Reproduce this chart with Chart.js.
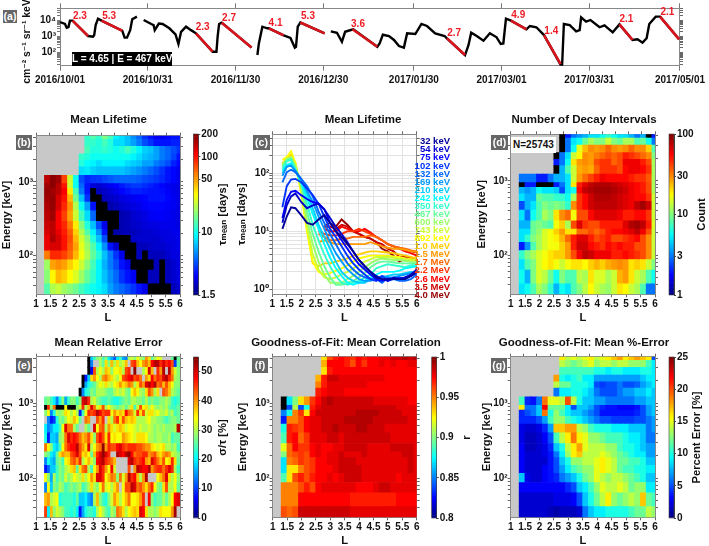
<!DOCTYPE html>
<html>
<head>
<meta charset="utf-8">
<title>Mean Lifetime</title>
<script src="https://cdn.jsdelivr.net/npm/chart.js@4"></script>
<style>
    html, body { margin: 0; background: #fff; overflow: hidden; }
    #page { position: relative; width: 709px; height: 546px; overflow: hidden; }
    canvas { position: absolute; }
    .badge { position: absolute; background: #666; color: #fff; font: bold 10.5px "Liberation Sans"; text-align: center; z-index: 5; }
    .note { position: absolute; font: bold 10px "Liberation Sans"; white-space: nowrap; z-index: 5; }
</style>
</head>
<body>
<div id="page"></div>
<script>
// ---- panel (a) time series ----
const dateDays = [0, 30, 60, 90, 121, 151, 181, 212];
const dateLabels = ["2016/10/01", "2016/10/31", "2016/11/30", "2016/12/30", "2017/01/30", "2017/03/01", "2017/03/31", "2017/05/01"];
const fluxDays = [0,1.7,2.3,2.9,3.4,4.3,9.6,11.3,11.7,12.2,13,14.2,21.3,22.1,22.9,24,24.7,26.3,null,
    28.6,31.2,32,32.4,33.8,35.1,37.4,39.5,40.5,41.4,43.1,44.8,46.5,52.2,53.5,53.9,54.4,55.3,65.5,null,
    67.5,68,69.2,70.9,71.4,76.5,78.8,80.3,80.7,81.3,82.2,90.5,null,
    92.6,94.7,96.4,97.5,98.6,100.3,108.5,109.3,110.4,112.5,114.2,115.9,117.6,118.7,121.5,123.6,125.5,128.3,131.5,132.3,138.5,139.7,140.6,142.5,144.8,147,149.3,150.7,151.6,152.5,154.2,159.5,160.7,162.9,165.5,171.2,171.7,172.3,174.3,176.5,177.7,178.2,179.9,181.4,184.5,186.2,189,191.3,195.8,197.5,199.2,200.6,201.5,203.7,205.2,211.7];
const fluxValues = [7500,5700,3400,3700,9100,9100,1050,950,1200,4900,12000,9100,2200,830,830,2400,11000,16000,null,
    10000,5700,4900,2400,6000,5700,3100,1320,340,1900,3900,2400,1530,115,115,950,5700,6900,205,null,
    72,370,3900,3100,3100,1150,800,205,230,3900,7000,1530,null,
    2000,1670,470,1900,2200,2700,230,370,1260,1050,600,255,205,1530,1390,5700,4300,1530,1050,760,72,295,1670,1050,540,1530,870,340,370,12000,9100,2700,4300,3600,1200,18,18,5700,4900,2000,2400,14600,7900,10000,3600,4700,1760,5400,600,660,410,760,5700,16000,16000,660];
const decayDays = [4.3,9.6,null,14.2,21.3,null,46.5,52.2,null,55.3,65.5,null,71.4,76.5,null,82.2,90.5,null,100,108.5,null,132.3,138.5,null,154.2,159.5,null,165.5,171.2,null,191.3,195.8,null,205.2,211.7];
const decayFlux = [9100,1050,null,9100,2200,null,1530,115,null,6900,205,null,3100,1150,null,7000,1530,null,2700,230,null,760,72,null,9100,2700,null,1200,20,null,5400,600,null,16000,660];
const decayLabelDays = [6.8,16.8,48.8,57.8,73.7,84.8,101.9,134.8,156.7,168,193.7,207.7];
const decayLabelFlux = [17600,17600,3400,13700,6200,16000,5400,1530,18500,2200,11500,28000];
const decayLabels = ["2.3","5.3","2.3","2.7","4.1","5.3","3.6","2.7","4.9","1.4","2.1","2.1"];

// ---- shared heatmap axes ----
const energyEdges = [30,41.6,63.6,87.5,116,149,188,225,291,404,529,668,814,944,1225,1597,1934,2392,3017,3742,4200];
const wideBins = [1.4,1.6,1.8,2,2.2,2.4,2.6,2.8,3,3.2,3.4,3.6,3.8,4,4.2,4.4,4.6,4.8,5,5.2,5.4,5.6,5.8,6];
const fineBins = [1.35,1.45,1.55,1.65,1.75,1.85,1.95,2.05,2.15,2.25,2.35,2.45,2.55,2.65,2.75,2.85,2.95,3.05,3.15,3.25,3.35,3.45,3.55,3.65,3.75,3.85,3.95,4.05,4.15,4.25,4.35,4.45,4.55,4.65,4.75,4.85,4.95,5.05,5.15,5.25,5.35,5.45,5.55,5.65,5.75,5.85,5.95];
const energyTicks = [40,50,60,70,80,90,100,200,300,400,500,600,700,800,900,1000,2000,3000,4000];

// rows run from 32 keV up to 4 MeV; short rows start further right in L
const lifetimeRows = [
    [14,22,24,20,18,16,13,11,10,9,8,6,5,4.5,4,3.5,3,2.5,1,1,1,1,2,2.2],
    [18,33,45,40,32,27,20,15,12,9,7,5.5,4.5,3.5,3,2.6,1,1,2,2,1,2,2.2,2.4],
    [20,50,55,50,40,33,25,18,13,9,6.5,5,4,3,2.5,1,1,1,1,2,1,2,2.2,2.4],
    [60,90,90,80,65,45,30,22,15,11,7,5,3.5,2.5,1,1,2,1,2,2,2,2.2,2.4,2.4],
    [120,130,130,100,70,50,28,20,14,9,5.5,3,2.2,1,1,1,2,2,2.1,2.2,2.2,2.3,2.4,2.5],
    [120,160,130,100,75,45,26,18,11,7,4,1,1,1,1,2.1,2.2,2.2,2.2,2.2,2.3,2.4,2.4,2.5],
    [130,150,120,95,70,40,22,14,9,5.5,3,1,1.8,1.9,2,2,2.1,2.2,2.2,2.3,2.4,2.4,2.5,2.5],
    [140,150,110,90,60,35,18,11,7,4,2.5,1,1,1.9,2,2.1,2.2,2.3,2.4,2.4,2.5,2.5,2.5,2.4],
    [150,170,110,80,50,25,13,8,4.5,1,1,1,1,1.9,2,2.2,2.3,2.4,2.6,2.7,2.7,2.6,2.5,2.4],
    [160,180,130,90,55,22,10,6,3,1,1,1.9,2,2.2,2.3,2.4,2.5,2.7,2.8,2.8,2.8,2.7,2.6,2.4],
    [170,180,130,100,45,16,7,3.5,1,1,2,2.1,2.2,2.4,2.5,2.6,2.7,2.8,3,3,3,2.8,2.6,2.4],
    [180,170,150,110,35,13,5,3,1,2,2.1,2.3,2.5,2.8,3,3.2,3.2,3.1,3,3,2.9,2.7,2.5,2.4],
    [170,190,150,100,25,10,4.5,3,2.3,2.2,2.4,2.6,2.8,3.1,3.4,3.6,3.6,3.4,3.2,3,2.8,2.6,2.5,2.4],
    [150,190,170,80,25,10,4,3.3,3.5,3.6,3.9,4.2,4.5,4.5,4.5,4.5,4.3,4,3.8,3.6,3.3,3,2.8,2.5],
    [8,8.5,7.5,7,7,7,7,7,6.5,6,5.5,5,4.5,4,3.5,3,2.8,2.5],
    [11,9.5,9,8,9,9,9,9,8,7.5,7,6,6,5,4.5,4,3.2,2.8],
    [12,11,10,10,10,10,10,10,10,9,8,7,6.5,6,5,4.5,3.8,3],
    [13,11,11,12,11,10,11,13,11,9,7.5,7,6,5,4.5,4,3.5],
    [12,12,11,13,11,8,8,7,6,5,4,3.5,3,3,3,3.2,3.2],
    [12,14,12,17,13,9,8,7,5.5,4.5,3.5,3,2.6,2.6,2.8,3,3]
];
const countRows = [
    [5,6,8,12,10,7,4,6,5,8,10,13,18,14,12,11,14,20,18,14,12,8,3,3],
    [6,4,10,15,13,9,6,10,8,8,13,12,20,15,15,12,14,25,28,20,14,12,8,6],
    [5,8,10,15,18,20,17,14,17,20,20,18,22,25,22,26,28,30,28,20,22,20,14,10],
    [7,10,12,15,17,20,22,22,28,40,60,75,70,60,60,60,50,50,55,50,45,40,30,14],
    [2,3.5,8,12,15,17,17,22,28,50,70,70,55,50,45,55,50,55,50,50,40,40,30,14],
    [5,7,10,12,15,17,19,25,35,50,65,65,50,40,45,50,40,40,45,50,55,40,30,14],
    [5,5,9,11,15,17,22,28,20,20,35,35,40,35,40,50,55,55,60,65,75,60,40,14],
    [4,4,9,10,9,8,17,22,12,40,65,45,40,40,50,50,50,50,65,80,85,75,50,15],
    [5,3,6,8,12,10,20,30,35,17,40,40,55,65,65,65,65,60,50,50,55,55,45,14],
    [2.5,4,5,8,10,9,10,9,7,30,45,55,70,75,75,75,75,70,65,60,75,85,70,14],
    [5,4,4,9,8,8,7,7,6,12,45,55,70,80,80,80,75,70,65,60,55,55,45,14],
    [4,3.5,4,6,5,5,4.5,2.5,5,6,55,75,80,85,85,85,80,75,70,60,55,50,40,12],
    [1,2,2,1,1,1,2,3,5,20,50,65,75,80,80,80,75,70,65,60,55,50,40,12],
    [3,3,3,2,2,3,4,4,5,14,28,35,42,50,60,55,55,55,55,50,45,45,38,12],
    [1,4,8,14,26,28,26,36,45,45,45,40,55,60,60,55,45,12],
    [2,3,6,20,28,30,28,40,45,45,36,40,60,60,60,50,40,12],
    [1,3,5,14,18,30,28,32,36,40,36,40,50,45,40,35,30,10],
    [1,3,6,16,24,30,28,30,36,30,28,30,36,30,30,22,8],
    [1,3,5,6,9,12,10,10,14,10,9,12,12,8,9,6,3],
    [1,2,3,3.5,4,5,5,6,7,6,5,5,4,3,4,1,2]
];
const errorRows = [
    [45,20,38,28,32,30,28,24,24,22,24,20,8,16,22,24,24,22,30,34,30,26,24,30,28,42,40,36,30,34,36,38,36,50,48,36,30,30,28,30,36,34,34,34,40,53,null],
    [38,40,30,32,34,22,24,24,24,24,22,26,18,18,20,16,14,30,38,28,24,22,28,32,40,36,30,34,38,42,34,34,36,40,46,null,48,28,24,26,26,30,26,30,34,48,50],
    [14,34,18,28,26,30,28,24,26,28,26,28,30,24,26,30,36,30,28,34,42,32,34,30,36,40,null,34,44,44,52,50,42,44,40,36,42,46,34,28,26,36,44,30,30,34,26],
    [34,28,16,30,24,28,26,32,28,30,34,32,30,36,30,34,40,36,50,50,46,34,38,42,40,28,42,32,40,52,46,48,38,30,40,52,null,null,null,34,38,42,50,36,30,34,28],
    [8,12,18,18,24,28,26,30,32,36,38,26,36,42,44,30,24,34,40,50,46,40,34,48,32,null,null,null,null,44,null,40,52,50,48,48,52,40,44,46,46,42,46,50,46,30,24],
    [14,22,18,16,26,28,24,34,36,42,44,40,46,30,34,38,32,28,48,50,52,46,44,42,38,null,null,null,null,50,52,46,44,46,48,40,38,50,46,42,38,44,34,36,46,36,26],
    [28,26,20,18,26,36,40,38,38,44,46,50,44,36,38,34,26,38,46,50,54,50,46,null,null,52,50,48,52,54,48,42,44,44,46,46,40,42,44,38,36,40,42,40,32,30,28],
    [42,34,28,20,18,24,34,42,46,48,48,52,44,40,36,50,30,34,40,42,54,40,46,44,44,48,50,46,44,46,46,46,44,44,42,40,40,36,34,32,34,36,30,30,28,30,24],
    [22,8,18,18,16,28,30,42,50,46,48,46,42,38,40,44,36,28,44,48,44,36,46,34,36,34,34,40,38,36,34,32,36,36,36,34,30,30,28,30,30,28,28,30,24,26,26],
    [20,14,16,20,20,24,34,50,42,42,30,26,null,null,30,26,null,50,34,42,44,30,40,36,32,36,38,36,32,34,34,32,30,32,30,30,32,30,28,30,28,30,28,28,28,30,52],
    [null,14,8,10,22,28,26,30,34,32,38,34,26,null,42,40,null,null,44,40,46,null,36,30,42,46,36,44,38,36,38,36,30,30,30,32,34,30,30,28,28,26,24,26,28,28,26],
    [28,34,14,22,30,28,30,36,34,30,34,30,8,24,34,46,44,46,52,48,44,46,46,34,40,36,38,36,48,42,40,32,46,36,44,32,36,36,32,34,30,30,32,28,30,24,26],
    [-1,46,28,42,-1,-1,-1,34,-1,-1,-1,28,32,46,30,38,50,42,32,36,44,30,34,30,28,26,28,30,26,30,36,24,32,44,34,36,30,34,30,28,30,28,30,26,24,24,26],
    [26,28,24,20,14,22,28,16,24,28,28,24,28,50,52,46,30,32,28,26,24,24,26,24,22,22,24,26,28,26,30,30,28,28,26,30,26,28,26,26,28,28,30,28,24,22,24],
    [-1,14,22,24,28,26,30,30,30,28,26,26,30,32,30,32,28,26,34,38,34,30,28,36,44,40,30,36,null,44,42,38,30,28,26],
    [-1,16,22,24,26,30,34,32,36,32,30,34,36,40,36,38,42,40,30,36,44,40,50,52,48,52,42,44,38,44,38,34,28,28],
    [-1,8,18,36,40,34,30,40,42,38,36,32,30,34,44,46,48,50,44,46,42,null,40,36,48,42,46,44,50,52,46,42,30,28],
    [-1,6,44,30,34,30,38,36,28,34,34,36,30,44,46,null,54,null,null,30,34,50,38,null,46,40,52,null,52,40,32,28],
    [-1,14,null,null,30,26,36,28,38,30,36,30,32,38,null,44,46,38,34,40,42,38,48,52,52,46,50,46,48,44,10,26],
    [-1,18,24,28,30,24,28,20,16,12,20,24,16,14,30,32,28,34,30,28,40,36,26,30,34,32,null,null,null,26,-1,26]
];
const correlationRows = [
    [.96,.955,.96,.985,.985,.985,.985,.985,.985,.985,.985,.985,.98,.98,.98,.98,.98,.98,.98,.98,.98,.98,.98,.98],
    [.95,.95,.95,.975,.975,.975,.975,.975,.975,.975,.975,.975,.97,.97,.97,.97,.97,.97,.97,.97,.975,.975,.975,.975],
    [.95,.95,.95,.96,.97,.96,.975,.98,.98,.98,.98,.98,.98,.975,.975,.975,.98,.985,.985,.98,.98,.98,.98,.98],
    [.89,.93,.96,.97,.96,.97,.975,.975,.98,.975,.98,.985,.985,.985,.98,.98,.98,.98,.98,.98,.975,.98,.98,.98],
    [.87,.93,.93,.95,.96,.965,.975,.975,.975,.98,.985,.985,.985,.985,.98,.98,.98,.98,.98,.98,.98,.98,.985,.98],
    [.87,.95,.955,.965,.96,.965,.975,.975,.98,.98,.985,.985,.985,.98,.98,.98,.98,.98,.98,.98,.98,.98,.985,.98],
    [.9,.955,.96,.965,.96,.975,.98,.975,.98,.98,.985,.98,.98,.98,.985,.98,.98,.98,.98,.98,.98,.985,.985,.98],
    [.92,.955,.975,.965,.965,.975,.98,.975,.975,.98,.98,.985,.985,.985,.985,.98,.98,.98,.98,.985,.985,.985,.985,.98],
    [.89,.97,.975,.955,.965,.98,.98,.98,.985,.985,.98,.985,.985,.985,.985,.985,.985,.985,.985,.98,.98,.98,.98,.98],
    [.88,.97,.965,.96,.975,.98,.98,.985,.985,.99,.985,.985,.985,.99,.99,.985,.985,.985,.98,.98,.98,.98,.98,.98],
    [.83,.95,.95,.96,.975,.98,.98,.985,.985,.985,.985,.99,.99,.99,.99,.99,.985,.985,.985,.985,.985,.985,.98,.98],
    [.85,.88,.95,.965,.93,.975,.985,.985,.985,.985,.985,.985,.985,.99,.99,.99,.99,.985,.985,.985,.985,.98,.98,.98],
    [.79,.84,.91,.84,.88,.97,.98,.985,.985,.985,.985,.985,.985,.985,.985,.985,.985,.985,.985,.985,.98,.98,.98,.98],
    [.79,.87,.9,.93,.945,.965,.975,.985,.99,.985,.985,.985,.985,.985,.985,.985,.98,.98,.98,.98,.98,.98,.975,.975],
    [.97,.975,.98,.98,.98,.975,.975,.975,.975,.975,.975,.975,.975,.975,.975,.975,.975,.975],
    [.95,.97,.98,.98,.98,.98,.98,.98,.98,.975,.975,.975,.975,.975,.975,.975,.975,.975],
    [.94,.97,.985,.985,.98,.98,.98,.98,.98,.98,.98,.98,.975,.975,.975,.975,.975,.975],
    [.93,.97,.975,.975,.975,.975,.975,.975,.975,.975,.975,.975,.975,.975,.975,.975,.975],
    [.94,.975,.975,.975,.97,.96,.975,.965,.975,.975,.98,.975,.98,.975,.975,.98,.98],
    [.93,.96,.97,.975,.97,.965,.975,.97,.975,.975,.98,.98,.985,.985,.99,.985,.99]
];
const percentRows = [
    [2,2,2,2,2,1.5,1,1.5,1.5,1.5,2,6,8,9,9,10,10,10,10,11,12,12,14,13],
    [2,2,2,2,2,2,2.5,2.5,2.5,3,5,8,10,12,14,16,13,12,13,14,13,17,12,11],
    [3,3,3,3,3,3,3,3,4,5,8,9,11,13,15,14,14,15,14,12,13,13,9,9],
    [8,2.5,2,2,3,3.5,4,6,7,8,10,12,13,15,14,13,14,14,13,12,11,10,8,8],
    [3,2,2,2,3,3.5,5,7,9,11,12,13,13,15,16,15,14,12,11,11,10,10,9,9],
    [3,2,2,2,2,3.5,5,8,10,13,13,14,14,15,16,15,14,12,12,11,11,10,8,8],
    [3,2,2,2,2.5,3.5,6,9,13,16,17,14,14,14,15,14,13,12,11,10,9,9,7,7],
    [3,1.5,1.5,2,2.5,4,8,10,14,16,18,15,14,14,14,13,13,11,10,10,9,8,7,7],
    [2.5,1.5,1.5,2,3,5,11,14,16,19,16,15,13,13,12,11,11,11,10,9,9,8,6,6],
    [2.5,2,2,2.5,4,7,17,17,18,18,14,13,11,10,10,10,9,9,9,8,8,8,6,7],
    [4,4,4,5,7,11,13,13,11,10,9,8,7,6,5,5,4.5,4.5,4.5,4.5,5,5,6,7],
    [4,5,6,8,19,10,13,11,9,8,8,7,6,5,3.5,3.5,3.5,3.5,3.5,3.5,4,5,7,8],
    [16,6,6,8,22,12,12,12,9,5,8,8,7,5,4,3.5,3.5,3,3,3,3.5,5,7,8],
    [11,4,3.5,6,19,15,15,14,20,14,10,8,8,7,7,6,6,6,6,6,7,7,8,8],
    [6,9,9,10,10,9,8,6,5,5,5,6,7,7,8,8,9,8],
    [14,12,12,10,10,10,9,5,4.5,5,5,6,5,5,5.5,7,8,9],
    [18,10,9,10,11,9,9,7,7,7,7,7,7,7,7,8,9,9],
    [11,11,11,11,11,11,10,10,9,10,10,9,9,9,10,10,9],
    [14,13,12,13,14,15,13,14,14,13,14,14,13,13,13,11,9],
    [16,14,15,14,15,16,14,15,16,17,18,16,17,18,17,16,5]
];

// ---- panel (c) lifetime per energy channel ----
const lifetimeL = [1.35,1.5,1.65,1.8,2,2.2,2.4,2.6,2.8,3,3.2,3.4,3.6,3.8,4,4.2,4.4,4.6,4.8,5,5.2,5.4,5.6,5.8,6];
const channelNames = ["32 keV","54 keV","75 keV","102 keV","132 keV","169 keV","210 keV","242 keV","350 keV","467 keV","600 keV","743 keV","892 keV","1.0 MeV","1.5 MeV","1.7 MeV","2.2 MeV","2.6 MeV","3.5 MeV","4.0 MeV"];
const channelLifetimes = [
    [11,18,26,25,19,14,13,16,19,14,10,8,6,4.5,3.2,2.5,2,1.6,1.5,1.5,1.5,1.5,1.5,1.7,2],
    [14,28,40,45,32,25,28,30,24,17,12,9,6.5,4.5,3.2,2.5,2,1.7,1.5,1.4,1.6,1.5,1.6,1.8,2.2],
    [17,35,48,50,42,36,32,30,24,14,10,7,5,3.6,2.7,2.2,1.8,1.5,1.4,1.5,1.5,1.5,1.6,1.7,2],
    [26,60,78,80,70,55,42,30,18,11,8,5.5,3.8,2.8,2.2,1.8,1.5,1.4,1.7,1.4,1.5,1.6,1.5,1.7,1.9],
    [70,105,115,105,80,60,40,22,14,9,6,4,2.8,2.2,1.8,1.6,1.5,1.5,1.3,1.6,1.5,1.4,1.4,1.5,1.8],
    [90,130,135,110,80,50,32,18,11,6.5,4.2,3,2.2,1.8,1.5,1.4,1.4,1.5,1.7,1.6,1.6,1.7,1.8,1.9,2],
    [100,130,140,110,75,45,25,13,8,5,3,2,1.6,1.4,1.3,1.3,1.5,1.6,1.6,1.7,1.8,1.8,1.9,2,2],
    [110,140,150,110,70,38,20,11,6,3.5,2.3,1.7,1.3,1.2,1.3,1.4,1.6,1.8,2,2,2,2.1,2.3,2.4,2.5],
    [120,160,170,115,70,30,13,7,4,2.5,1.7,1.3,1.2,1.3,1.4,1.6,1.8,2.3,2.5,2.7,2.6,2.5,2.4,2.6,2.6],
    [130,170,180,120,65,22,9,4.5,2.5,1.6,1.2,1.2,1.3,1.4,1.6,1.9,2.4,2.8,3,3,2.9,2.8,2.8,2.8,2.8],
    [140,170,190,130,60,16,6,3,1.8,1.3,1.3,1.3,1.5,1.7,2,2.4,2.8,3.2,3.4,3.3,3.2,3.2,3.1,3,2.9],
    [140,180,190,140,55,12,4,2.2,1.6,1.5,1.6,1.8,2,2.3,2.6,3,3.3,3.6,3.6,3.6,3.5,3.4,3.3,3.2,3.2],
    [170,190,240,150,45,10,3,2,1.8,1.9,2.1,2.3,2.6,3,3.4,3.6,3.8,3.8,3.8,3.8,3.7,3.6,3.4,3.3,3.2],
    [150,180,210,150,50,11,2.8,2.5,2.8,2.8,3,3.2,3.4,3.8,4,4.3,4.5,4.5,4.4,4.3,4.2,4,3.8,3.6,3.4],
    [6.5,7,6.5,6,6,6,6,6,6,6.5,6,5.5,5.2,5,5,4.8,4.5,4.5],
    [9,8,7,7,7.5,7.5,8,8,8,8.5,8,7,6,5.5,5.2,5,4.7,4.5],
    [10,9,8.5,8.5,9,10,10,11,10,9,8,7,6,5.5,5.2,4.8,4.5,4.3],
    [11,10,10,12,11,10,10,11,9.5,8,7,6,5.5,5,4.5,4.2,3.8],
    [12,12,11,13,12,10,9,8,7.5,6.5,6,5,4.5,3.6,3.7,3.4,3.2],
    [12,14,12,16,13,10,9,8,7.5,6.5,5,4.5,3.8,3,3.4,3.2,3.3]
];

const FONT = '"Liberation Sans", "DejaVu Sans", sans-serif';
const TICK_FONT = { family: FONT, size: 10, weight: "bold" };
const TITLE_FONT = { family: FONT, size: 11.5, weight: "bold" };
const AXIS_FONT = { family: FONT, size: 11.2, weight: "bold" };
const page = document.getElementById("page");
const superscripts = { 1: "10⁰", 10: "10¹", 100: "10²", 1000: "10³", 10000: "10⁴" };

function jet(t) {
    const c = v => Math.round(255 * Math.max(0, Math.min(1, v)));
    return `rgb(${c(1.5 - Math.abs(4 * t - 3))},${c(1.5 - Math.abs(4 * t - 2))},${c(1.5 - Math.abs(4 * t - 1))})`;
}

function addCanvas(left, top, width, height) {
    const canvas = document.createElement("canvas");
    canvas.width = width;
    canvas.height = height;
    canvas.style.left = left + "px";
    canvas.style.top = top + "px";
    canvas.style.width = width + "px";
    canvas.style.height = height + "px";
    page.appendChild(canvas);
    return canvas;
}

function addBadge(text, left, top, width, height) {
    const div = document.createElement("div");
    div.className = "badge";
    div.textContent = text;
    div.style.cssText += `left:${left}px;top:${top}px;width:${width}px;height:${height}px;line-height:${height}px;`;
    page.appendChild(div);
}

function addNote(text, left, top, width, height, color, background) {
    const div = document.createElement("div");
    div.className = "note";
    div.textContent = text;
    div.style.cssText += `left:${left}px;top:${top}px;width:${width}px;height:${height}px;line-height:${height}px;color:${color};background:${background};text-align:center;`;
    page.appendChild(div);
}

function mirrorAxis(axis, position, extra, size) {
    return Object.assign({
        axis: axis,
        position: position,
        afterFit: s => { if (axis === "x") s.height = size; else s.width = size; },
        ticks: { display: false },
        grid: { drawOnChartArea: false, tickLength: 3, tickColor: "#666" },
        border: { color: "#888" }
    }, extra);
}

// box sizes are pinned so the plot area lands exactly where the reference has it
function framedOptions(p) {
    const canvasTop = p.canvasTop;
    const titleBottom = p.plotT - 4 - (p.titleY + 6.9);
    const options = {
        responsive: false,
        animation: false,
        maintainAspectRatio: false,
        layout: { padding: 0 },
        plugins: {
            legend: { display: false },
            tooltip: { enabled: false },
            title: {
                display: true,
                text: p.title,
                color: "#111",
                font: TITLE_FONT,
                padding: { top: p.titleY - 6.9 - canvasTop, bottom: titleBottom }
            }
        },
        scales: {
            x: {
                type: "linear",
                min: 1,
                max: 6,
                offset: false,
                afterFit: s => { s.height = p.canvasBottom - p.plotB; },
                ticks: { stepSize: 0.5, autoSkip: false, maxRotation: 0, padding: 1, color: "#111", font: TICK_FONT, callback: v => String(v) },
                grid: { offset: false, drawOnChartArea: !!p.lightGrid, color: "#e2e2e2", tickLength: 3, tickColor: "#666" },
                border: { color: "#888" },
                title: { display: true, text: "L", color: "#111", font: AXIS_FONT, padding: { top: 0, bottom: p.canvasBottom - p.plotB - 23.5 - 6.7 } }
            },
            y: {
                type: "logarithmic",
                min: p.yMin,
                max: p.yMax,
                afterFit: s => { s.width = p.plotL - p.canvasLeft; },
                afterBuildTicks: s => { s.ticks = p.yTicks.map(value => ({ value })); },
                ticks: { autoSkip: false, padding: 0, color: "#111", font: TICK_FONT, callback: v => superscripts[v] || "" },
                grid: { drawOnChartArea: !!p.lightGrid, color: "#e2e2e2", tickLength: 3, tickColor: "#666" },
                border: { color: "#888" },
                title: { display: true, text: p.yTitle, color: "#111", font: AXIS_FONT, padding: { top: p.yTitleX - p.canvasLeft - 6.7, bottom: 0 } }
            },
            x2: mirrorAxis("x", "top", { type: "linear", min: 1, max: 6 }, 4),
            y2: mirrorAxis("y", "right", {
                type: "logarithmic",
                min: p.yMin,
                max: p.yMax,
                afterBuildTicks: s => { s.ticks = p.yTicks.map(value => ({ value })); }
            }, p.canvasRight - p.plotR)
        }
    };
    options.scales.x2.ticks.stepSize = 0.5;
    return options;
}

function heatPanel(p) {
    const bins = p.bins;
    const thickness = (p.plotR - p.plotL) / 5 * (bins[1] - bins[0]) + 0.4;
    const colorOf = v => {
        if (v === null) return "#c8c8c8";
        if (v <= p.min) return "#000";
        const t = p.log ? Math.log(v / p.min) / Math.log(p.max / p.min) : (v - p.min) / (p.max - p.min);
        return jet(Math.min(1, t));
    };
    const datasets = p.rows.map((row, r) => {
        const start = bins.length - row.length;
        return {
            data: row.map((v, i) => ({ x: bins[start + i], y: [energyEdges[r], energyEdges[r + 1]] })),
            backgroundColor: row.map(colorOf),
            barThickness: thickness,
            grouped: false,
            borderWidth: 0
        };
    });
    p.canvasTop = Math.floor(p.titleY - 7);
    p.canvasBottom = p.plotB + 40;
    p.yMin = 30;
    p.yMax = 4200;
    p.yTicks = energyTicks;
    p.yTitle = "Energy [keV]";
    const canvas = addCanvas(p.canvasLeft, p.canvasTop, p.canvasRight - p.canvasLeft, Math.ceil(p.canvasBottom - p.canvasTop));
    p.canvasBottom = Math.ceil(p.canvasBottom - p.canvasTop) + p.canvasTop;
    new Chart(canvas.getContext("2d"), {
        type: "bar",
        data: { datasets: datasets },
        options: framedOptions(p),
        plugins: [{
            id: "plotBackground",
            beforeDraw(chart) {
                const a = chart.chartArea;
                chart.ctx.fillStyle = p.background;
                chart.ctx.fillRect(a.left, a.top, a.width, a.height);
            }
        }]
    });
}

function colorBar(b) {
    const levels = [];
    for (let i = 0; i < 64; i++) levels.push(i);
    const at = i => b.log ? b.min * Math.pow(b.max / b.min, i / 64) : b.min + (b.max - b.min) * i / 64;
    const left = Math.floor(b.barL) - 2;
    const top = Math.floor(b.top) - 8;
    const width = b.canvasRight - left;
    const height = Math.ceil(b.bottom) + 8 - top;
    const canvas = addCanvas(left, top, width, height);
    new Chart(canvas.getContext("2d"), {
        type: "bar",
        data: {
            datasets: [{
                data: levels.map(i => ({ x: 0.5, y: [at(i), at(i + 1)] })),
                backgroundColor: levels.map(i => jet((i + 0.5) / 64)),
                barThickness: b.barR - b.barL + 1,
                borderWidth: 0
            }]
        },
        options: {
            responsive: false,
            animation: false,
            maintainAspectRatio: false,
            layout: { padding: { left: b.barL - left, top: b.top - top, bottom: top + height - b.bottom, right: 0 } },
            plugins: { legend: { display: false }, tooltip: { enabled: false } },
            scales: {
                x: { type: "linear", min: 0, max: 1, display: false },
                y: {
                    type: b.log ? "logarithmic" : "linear",
                    position: "right",
                    min: b.min,
                    max: b.max,
                    afterFit: s => { s.width = width - (b.barL - left) - (b.barR - b.barL); },
                    afterBuildTicks: s => { s.ticks = b.ticks.map(value => ({ value })); },
                    ticks: { autoSkip: false, padding: 1, color: "#111", font: TICK_FONT, callback: v => String(v) },
                    grid: { drawOnChartArea: false, tickLength: 2, tickColor: "#444" },
                    border: { color: "#444" }
                }
            }
        },
        plugins: [{
            id: "barTitle",
            afterDraw(chart) {
                const ctx = chart.ctx, a = chart.chartArea;
                ctx.save();
                ctx.strokeStyle = "#444";
                ctx.lineWidth = 0.6;
                ctx.strokeRect(a.left, a.top, a.width, a.height);
                ctx.translate(b.titleX - left, (a.top + a.bottom) / 2);
                ctx.rotate(-Math.PI / 2);
                ctx.textAlign = "center";
                ctx.textBaseline = "middle";
                ctx.fillStyle = "#111";
                ctx.font = `bold 11.2px ${FONT}`;
                ctx.fillText(b.title, 0, 0);
                ctx.restore();
            }
        }]
    });
}

// ---- panel (a) ----
(function drawTimeSeries() {
    const plotL = 60, plotR = 683.3, plotT = 8.3, plotB = 65.7;
    const canvas = addCanvas(0, 0, 709, 90);
    const toPoints = (xs, ys) => xs.map((x, i) => ({ x: x === null ? NaN : x, y: ys[i] }));
    const fluxTicks = [20,30,40,50,60,70,80,90,100,200,300,400,500,600,700,800,900,1000,2000,3000,4000,5000,6000,7000,8000,9000,10000,20000,30000,40000,50000];
    new Chart(canvas.getContext("2d"), {
        type: "scatter",
        data: {
            datasets: [
                { data: toPoints(decayDays, decayFlux), showLine: true, borderColor: "#d8141c", borderWidth: 2.6, pointRadius: 0, spanGaps: false },
                { data: toPoints(fluxDays, fluxValues), showLine: true, borderColor: "#000", borderWidth: 2.4, pointRadius: 0, spanGaps: false }
            ]
        },
        options: {
            responsive: false,
            animation: false,
            maintainAspectRatio: false,
            layout: { padding: 0 },
            plugins: { legend: { display: false }, tooltip: { enabled: false } },
            scales: {
                x: {
                    type: "linear",
                    min: 0,
                    max: 212,
                    afterFit: s => { s.height = 90 - plotB; },
                    afterBuildTicks: s => { s.ticks = dateDays.map(value => ({ value })); },
                    ticks: { autoSkip: false, maxRotation: 0, padding: 4, color: "#111", font: TICK_FONT, callback: v => dateLabels[dateDays.indexOf(v)] },
                    grid: { drawOnChartArea: false, tickLength: 5, tickColor: "#777" },
                    border: { color: "#888" }
                },
                y: {
                    type: "logarithmic",
                    min: 16,
                    max: 52000,
                    afterFit: s => { s.width = plotL; },
                    afterBuildTicks: s => { s.ticks = fluxTicks.map(value => ({ value })); },
                    ticks: { autoSkip: false, padding: 1, color: "#111", font: TICK_FONT, callback: v => ({ 100: "10²", 1000: "10³", 10000: "10⁴" })[v] || "" },
                    grid: { drawOnChartArea: false, tickLength: 3, tickColor: "#777" },
                    border: { color: "#888" },
                    title: { display: true, text: "cm⁻² s⁻¹ sr⁻¹ keV⁻¹", color: "#111", font: { family: FONT, size: 10.4, weight: "bold" }, padding: { top: 21, bottom: 0 } }
                },
                x2: mirrorAxis("x", "top", {
                    type: "linear", min: 0, max: 212,
                    afterBuildTicks: s => { s.ticks = dateDays.map(value => ({ value })); },
                    grid: { drawOnChartArea: false, tickLength: 5, tickColor: "#777" }
                }, plotT),
                y2: mirrorAxis("y", "right", {
                    type: "logarithmic", min: 16, max: 52000,
                    afterBuildTicks: s => { s.ticks = fluxTicks.map(value => ({ value })); }
                }, 709 - plotR)
            }
        },
        plugins: [{
            id: "decayLabels",
            afterDatasetsDraw(chart) {
                const ctx = chart.ctx;
                ctx.save();
                ctx.fillStyle = "#ee1c25";
                ctx.font = `bold 10px ${FONT}`;
                ctx.textAlign = "center";
                ctx.textBaseline = "middle";
                decayLabels.forEach((text, i) => {
                    ctx.fillText(text, chart.scales.x.getPixelForValue(decayLabelDays[i]), chart.scales.y.getPixelForValue(decayLabelFlux[i]));
                });
                ctx.restore();
            }
        }]
    });
})();

// ---- panel (c) ----
(function drawLifetimes() {
    const p = {
        canvasLeft: 232, canvasRight: 494, plotL: 272.3, plotR: 416.7, plotT: 134.3, plotB: 294,
        titleY: 120, title: "Mean Lifetime", lightGrid: true,
        yMin: 0.83, yMax: 470, yTitle: "τₘₑₐₙ [days]", yTitleX: 242,
        yTicks: [1,2,3,4,5,6,7,8,9,10,20,30,40,50,60,70,80,90,100,200,300,400]
    };
    p.canvasTop = 113;
    p.canvasBottom = 335;
    const canvas = addCanvas(p.canvasLeft, p.canvasTop, p.canvasRight - p.canvasLeft, p.canvasBottom - p.canvasTop);
    const datasets = channelLifetimes.map((values, i) => {
        const start = lifetimeL.length - values.length;
        return {
            label: channelNames[i],
            data: values.map((v, k) => ({ x: lifetimeL[start + k], y: v })),
            showLine: true,
            borderColor: jet((i + 0.5) / channelNames.length),
            borderWidth: 1.9,
            pointRadius: 0
        };
    });
    new Chart(canvas.getContext("2d"), {
        type: "scatter",
        data: { datasets: datasets },
        options: framedOptions(p),
        plugins: [{
            id: "channelLegend",
            afterDraw(chart) {
                const ctx = chart.ctx;
                ctx.save();
                ctx.font = `bold 9.5px ${FONT}`;
                ctx.textAlign = "right";
                ctx.textBaseline = "middle";
                chart.data.datasets.forEach((ds, i) => {
                    ctx.fillStyle = ds.borderColor;
                    ctx.fillText(ds.label, 450 - p.canvasLeft, 141.7 - p.canvasTop + i * 8.07);
                });
                ctx.restore();
            }
        }]
    });
})();

// ---- heatmap panels ----
heatPanel({ canvasLeft: 0, canvasRight: 217, plotL: 36, plotR: 180, plotT: 135.7, plotB: 294.3, titleY: 120, yTitleX: 6.7,
    title: "Mean Lifetime", rows: lifetimeRows, bins: wideBins, min: 1.5, max: 200, log: true, background: "#c8c8c8" });
heatPanel({ canvasLeft: 470, canvasRight: 698, plotL: 510.7, plotR: 655, plotT: 134.3, plotB: 294.3, titleY: 120, yTitleX: 482,
    title: "Number of Decay Intervals", rows: countRows, bins: wideBins, min: 1, max: 100, log: true, background: "#c8c8c8" });
heatPanel({ canvasLeft: 0, canvasRight: 217, plotL: 36, plotR: 180, plotT: 356.7, plotB: 517.3, titleY: 343, yTitleX: 6.7,
    title: "Mean Relative Error", rows: errorRows, bins: fineBins, min: 0, max: 55, log: false, background: "#fff" });
heatPanel({ canvasLeft: 232, canvasRight: 460, plotL: 272.7, plotR: 416.7, plotT: 356.7, plotB: 517.3, titleY: 343, yTitleX: 243,
    title: "Goodness-of-Fit: Mean Correlation", rows: correlationRows, bins: wideBins, min: 0.8, max: 1, log: false, background: "#c8c8c8" });
heatPanel({ canvasLeft: 470, canvasRight: 698, plotL: 510.7, plotR: 655, plotT: 356.7, plotB: 517.3, titleY: 343, yTitleX: 486.7,
    title: "Goodness-of-Fit: Mean %-Error", rows: percentRows, bins: wideBins, min: 0, max: 25, log: false, background: "#c8c8c8" });

// ---- colour bars ----
colorBar({ barL: 193.3, barR: 198.3, top: 134, bottom: 295, min: 1.5, max: 200, log: true, ticks: [1.5, 10, 50, 100, 200], title: "τₘₑₐₙ [days]", titleX: 223, canvasRight: 235 });
colorBar({ barL: 669, barR: 674, top: 134, bottom: 295, min: 1, max: 100, log: true, ticks: [1, 3, 10, 30, 100], title: "Count", titleX: 702, canvasRight: 709 });
colorBar({ barL: 193.3, barR: 198.3, top: 357, bottom: 518, min: 0, max: 55, log: false, ticks: [0, 10, 20, 30, 40, 50], title: "σ/τ [%]", titleX: 223, canvasRight: 235 });
colorBar({ barL: 431.7, barR: 436.7, top: 357, bottom: 518, min: 0.8, max: 1, log: false, ticks: [0.8, 0.85, 0.9, 0.95, 1], title: "r", titleX: 467, canvasRight: 476 });
colorBar({ barL: 669, barR: 674, top: 357, bottom: 518, min: 0, max: 25, log: false, ticks: [0, 5, 10, 15, 20, 25], title: "Percent Error [%]", titleX: 697, canvasRight: 709 });

// ---- panel badges and notes ----
addBadge("(a)", 3, 10, 14, 13);
addBadge("(b)", 16, 135, 16, 15);
addBadge("(c)", 253, 135, 17, 15);
addBadge("(d)", 491, 135, 17, 15);
addBadge("(e)", 16, 358, 16, 15);
addBadge("(f)", 252, 358, 16, 15);
addBadge("(g)", 491, 358, 16, 15);
addNote("L = 4.65 | E = 467 keV", 72, 52, 100, 14, "#fff", "#000");
addNote("N=25743", 511, 137, 45, 16, "#111", "#fff");
</script>
</body>
</html>
